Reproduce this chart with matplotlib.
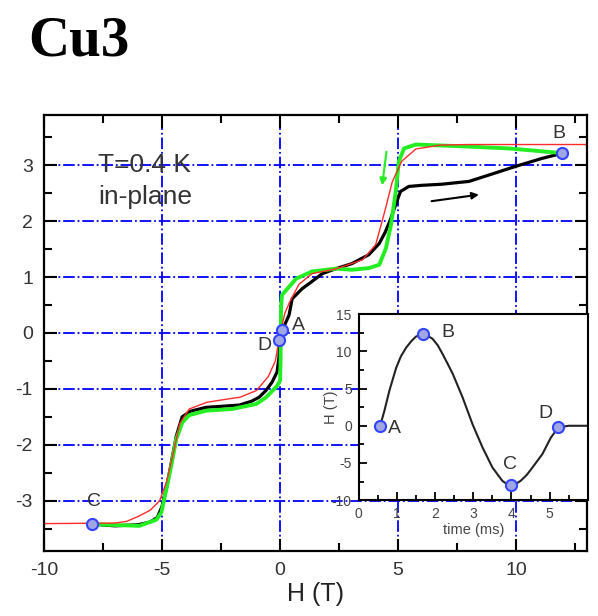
import matplotlib
matplotlib.use("Agg")
import matplotlib.pyplot as plt
from matplotlib.ticker import MultipleLocator

plt.rcParams['font.family'] = ['Liberation Sans', 'DejaVu Sans']
plt.rcParams['axes.unicode_minus'] = False

# main loop data, H (T) vs M
red_h = [-10, -7, -6.5, -6, -5.5, -5.1, -4.8, -4.55, -4.25, -3.85, -3.1, -2.2, -1.7, -1.0,
         -0.5, -0.2, 0, 0.2, 0.4, 0.8, 1.35, 2.4, 3.5, 4.05, 4.45, 4.75, 5.15, 5.75, 6.8, 8, 13]
red_m = [-3.41, -3.40, -3.37, -3.28, -3.17, -3.0, -2.65, -2.2, -1.62, -1.36, -1.24, -1.18, -1.15, -1.03,
         -0.78, -0.5, 0.0, 0.35, 0.55, 0.87, 1.06, 1.15, 1.31, 1.58, 2.2, 2.7, 3.07, 3.29, 3.36, 3.37, 3.37]

green_h = [11.85, 9.7, 7.6, 5.75, 5.25, 5.03, 4.9, 4.7, 4.48, 4.2, 3.76, 3.04, 2.37, 1.35, 0.68,
           0.08, 0.04, 0.02, 0.0, -0.13, -0.59, -1.01, -2.03, -3.13, -3.85, -4.14, -4.4, -4.61,
           -4.82, -5.03, -5.24, -5.96, -7.36, -7.95]
green_m = [3.22, 3.3, 3.34, 3.37, 3.3, 3.07, 2.53, 1.94, 1.51, 1.22, 1.16, 1.13, 1.15, 1.1, 0.97,
           0.68, 0.45, -0.5, -0.85, -0.95, -1.15, -1.27, -1.36, -1.39, -1.47, -1.6, -1.9, -2.37,
           -2.8, -3.21, -3.34, -3.45, -3.43, -3.42]

black_neg_h = [-7.95, -7.0, -6.0, -5.5, -5.2, -5.0, -4.8, -4.6, -4.4, -4.15, -3.8, -3.13, -2.4,
               -1.73, -1.2, -0.89, -0.6, -0.34, -0.13, -0.05, -0.02]
black_neg_m = [-3.42, -3.45, -3.43, -3.38, -3.3, -3.1, -2.75, -2.3, -1.85, -1.5, -1.4, -1.33, -1.31,
               -1.29, -1.22, -1.15, -1.03, -0.88, -0.7, -0.45, -0.13]

black_pos_h = [0.08, 0.2, 0.38, 0.51, 0.93, 1.35, 1.78, 2.37, 3.04, 3.76, 4.2, 4.45, 4.65, 4.9,
               5.1, 5.45, 6.0, 6.85, 8.0, 8.96, 9.98, 11.08, 11.92]
black_pos_m = [0.05, 0.15, 0.32, 0.61, 0.79, 0.92, 1.06, 1.15, 1.24, 1.4, 1.6, 1.8, 2.0, 2.3,
               2.53, 2.62, 2.64, 2.66, 2.71, 2.84, 2.98, 3.12, 3.21]

# labelled points A-D on the loop
pt_names = ['A', 'B', 'C', 'D']
pt_h = [0.08, 11.92, -7.95, -0.04]
pt_m = [0.05, 3.21, -3.41, -0.13]

# field pulse for the inset
pulse_t = [0.56, 0.67, 0.80, 0.98, 1.1, 1.24, 1.38, 1.50, 1.67, 1.8, 1.93, 2.07, 2.2, 2.46, 2.72,
           2.98, 3.24, 3.5, 3.76, 3.87, 3.98, 4.1, 4.24, 4.4, 4.55, 4.68, 4.81, 4.92, 5.03, 5.13,
           5.23, 5.5, 6.0]
pulse_h = [0.0, 2.0, 4.7, 7.8, 9.3, 10.5, 11.4, 12.0, 12.3, 12.1, 11.7, 10.8, 9.6, 7.0, 3.8,
           0.2, -2.9, -5.6, -7.4, -7.8, -8.0, -7.85, -7.4, -6.6, -5.6, -4.7, -3.8, -2.7, -1.6, -0.9,
           -0.2, 0.0, 0.0]
pulse_pt_t = [0.56, 1.67, 3.98, 5.23]
pulse_pt_h = [0.0, 12.3, -8.0, -0.2]
inset_xticks = [0, 1, 2, 3, 4, 5]

fig = plt.figure(figsize=(5.98, 6.16), dpi=100)
ax = fig.add_axes([0.0736, 0.1055, 0.908, 0.708])

ax.set_xlim(-10, 13)
ax.set_ylim(-3.9, 3.9)
ax.xaxis.set_major_locator(MultipleLocator(5))
ax.xaxis.set_minor_locator(MultipleLocator(2.5))
ax.yaxis.set_major_locator(MultipleLocator(1))
ax.yaxis.set_minor_locator(MultipleLocator(0.5))
ax.tick_params(which='both', direction='in', top=True, right=True, width=1.5,
               labelsize=14, labelcolor='#333333', pad=8)
ax.tick_params(which='major', length=9)
ax.tick_params(which='minor', length=6)
for s in ax.spines.values():
    s.set_linewidth(1.6)
ax.grid(True, which='major', color='#0000ff', linestyle='-.', linewidth=1.3)
ax.set_axisbelow(True)
ax.set_xlabel('H (T)', fontsize=18, color='#222222', labelpad=2)

ax.plot(black_neg_h, black_neg_m, color='black', lw=2.3)
ax.plot(black_pos_h, black_pos_m, color='black', lw=2.3)
ax.plot(green_h, green_m, color='#22ee22', lw=2.8)
ax.plot(red_h, red_m, color='#ff2a2a', lw=1.0)
ax.plot(pt_h, pt_m, 'o', ms=8, mfc='#9fa6e3', mec='#3344ff', mew=1.5)

ax.annotate('', xy=(4.31, 2.59), xytext=(4.52, 3.29),
            arrowprops=dict(arrowstyle='-|>', color='#22ee22', lw=1.5, mutation_scale=10))
ax.annotate('', xy=(8.54, 2.48), xytext=(6.3, 2.35),
            arrowprops=dict(arrowstyle='-|>', color='black', lw=1.5, mutation_scale=10))

ax.text(0.5, 0.13, 'A', fontsize=14, color='#333333', va='center', ha='left')
ax.text(11.8, 3.57, 'B', fontsize=14, color='#333333', va='center', ha='center')
ax.text(-7.9, -3.02, 'C', fontsize=14, color='#333333', va='center', ha='center')
ax.text(-0.68, -0.22, 'D', fontsize=14, color='#333333', va='center', ha='center')

ax.text(0.099, 0.869, 'T=0.4 K', transform=ax.transAxes, fontsize=19, color='#333333')
ax.text(0.099, 0.796, 'in-plane', transform=ax.transAxes, fontsize=19, color='#333333')

fig.text(28 / 598, 1 - 55 / 616, 'Cu3', fontsize=41, fontweight='bold',
         family='Liberation Serif', va='baseline')

# inset with the field pulse
axi = fig.add_axes([0.600, 0.188, 0.383, 0.302])
axi.set_xlim(0, 6)
axi.set_ylim(-10, 15)
axi.set_xticks(inset_xticks)
axi.xaxis.set_minor_locator(MultipleLocator(0.5))
axi.yaxis.set_major_locator(MultipleLocator(5))
axi.yaxis.set_minor_locator(MultipleLocator(2.5))
axi.tick_params(which='both', direction='in', width=1.3, labelsize=10,
                labelcolor='#444444', pad=5)
axi.tick_params(which='major', length=6)
axi.tick_params(which='minor', length=3.5)
for s in axi.spines.values():
    s.set_linewidth(1.5)
axi.set_xlabel('time (ms)', fontsize=10.5, color='#444444', labelpad=1)
axi.set_ylabel('H (T)', fontsize=10.5, color='#444444')
axi.yaxis.set_label_coords(-0.09, 0.5)

axi.plot(pulse_t, pulse_h, color='#222222', lw=1.5)
axi.plot(pulse_pt_t, pulse_pt_h, 'o', ms=8, mfc='#9fa6e3', mec='#3344ff', mew=1.5)
axi.text(0.76, -0.3, 'A', fontsize=14, color='#333333', va='center', ha='left')
axi.text(2.17, 12.5, 'B', fontsize=14, color='#333333', va='center', ha='left')
axi.text(3.97, -5.2, 'C', fontsize=14, color='#333333', va='center', ha='center')
axi.text(4.9, 1.6, 'D', fontsize=14, color='#333333', va='center', ha='center')

fig.savefig('out.png', dpi=100)
